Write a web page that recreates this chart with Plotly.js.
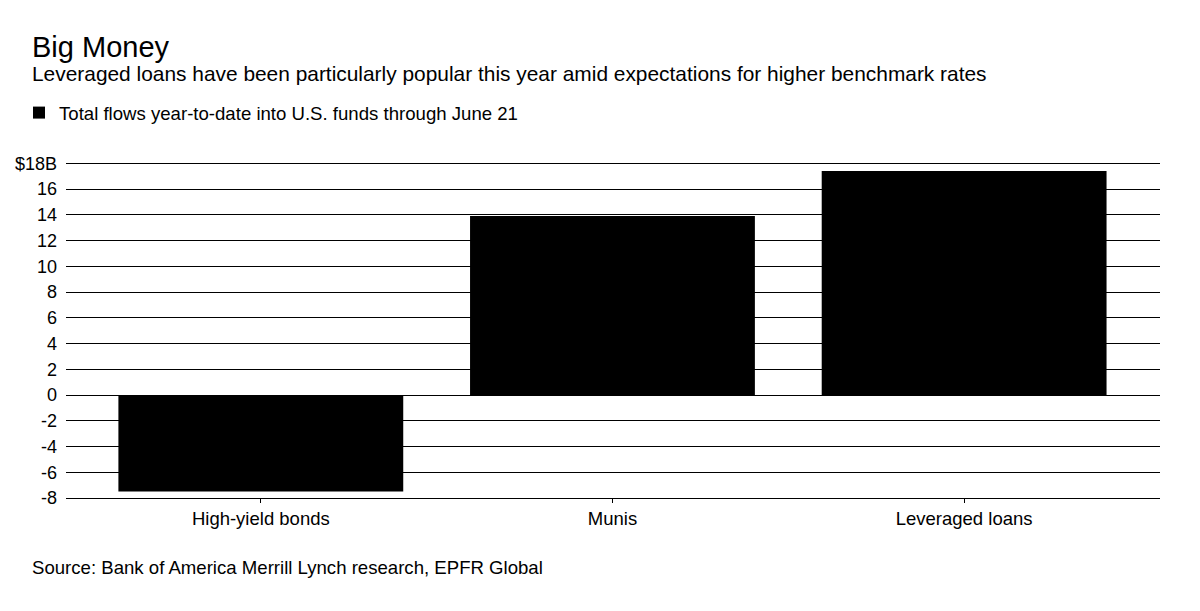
<!DOCTYPE html>
<html>
<head>
<meta charset="utf-8">
<script src="https://cdn.plot.ly/plotly-3.0.1.min.js"></script>
<style>html,body{margin:0;padding:0;background:#fff;}#chart{width:1200px;height:611px;}</style>
</head>
<body>
<div id="chart"></div>
<script>
var categories = ["High-yield bonds", "Munis", "Leveraged loans"];
var flows = [-7.5, 13.9, 17.4];
var seriesName = "Total flows year-to-date into U.S. funds through June 21";
var yTickVals = [-8, -6, -4, -2, 0, 2, 4, 6, 8, 10, 12, 14, 16, 18];
var yTickText = ["-8", "-6", "-4", "-2", "0", "2", "4", "6", "8", "10", "12", "14", "16", "$18B"];

var FONT = "Liberation Sans, Arial, Helvetica, sans-serif";
var W = 1200, H = 611;
var L = 66, R = 40, T = 162, B = 113;
var pw = W - L - R, ph = H - T - B;
function px(x) { return (x - L) / pw; }
function py(y) { return (H - B - y) / ph; }

var trace = {
  type: "bar",
  x: categories,
  y: flows,
  name: seriesName,
  width: 0.81,
  marker: {color: "#000000", line: {width: 0}},
  hoverinfo: "x+y"
};

var layout = {
  width: W, height: H,
  margin: {l: L, r: R, t: T, b: B, pad: 0},
  paper_bgcolor: "#ffffff",
  plot_bgcolor: "#ffffff",
  font: {family: FONT, color: "#000000", size: 16},
  showlegend: true,
  legend: {
    x: px(19), y: py(94), xanchor: "left", yanchor: "top",
    font: {family: FONT, size: 18.6, color: "#000"},
    itemwidth: 30, tracegroupgap: 0, bgcolor: "rgba(0,0,0,0)"
  },
  xaxis: {
    type: "category",
    range: [-0.554, 2.557],
    showgrid: false,
    showline: true, linecolor: "#000", linewidth: 1,
    ticks: "outside", ticklen: 4, tickcolor: "#000", tickwidth: 1,
    tickfont: {family: FONT, size: 18.5, color: "#000"},
    zeroline: false, fixedrange: true
  },
  yaxis: {
    range: [-8, 18.1],
    tickvals: yTickVals,
    ticktext: yTickText,
    showgrid: true, gridcolor: "#000", gridwidth: 1,
    zeroline: true, zerolinecolor: "#000", zerolinewidth: 1,
    showline: false,
    ticks: "", ticklabelstandoff: 8,
    tickfont: {family: FONT, size: 18, color: "#000"},
    fixedrange: true
  },
  annotations: [
    {xref: "paper", yref: "paper", x: px(30), y: py(29), xanchor: "left", yanchor: "top",
     text: "Big Money", showarrow: false, font: {family: FONT, size: 29, color: "#000"}},
    {xref: "paper", yref: "paper", x: px(30), y: py(60), xanchor: "left", yanchor: "top",
     text: "Leveraged loans have been particularly popular this year amid expectations for higher benchmark rates",
     showarrow: false, font: {family: FONT, size: 20.9, color: "#000"}},
    {xref: "paper", yref: "paper", x: px(30), y: py(555), xanchor: "left", yanchor: "top",
     text: "Source: Bank of America Merrill Lynch research, EPFR Global",
     showarrow: false, font: {family: FONT, size: 18.6, color: "#000"}}
  ]
};

Plotly.newPlot("chart", [trace], layout, {displayModeBar: false, staticPlot: true});
</script>
</body>
</html>
